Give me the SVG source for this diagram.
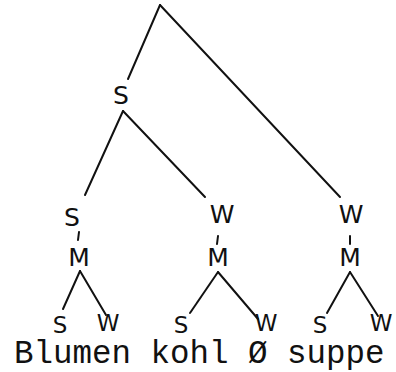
<svg xmlns="http://www.w3.org/2000/svg" width="396" height="372" viewBox="0 0 396 372">
<style>
.e{stroke:#111;stroke-width:2;fill:none;stroke-linecap:round}
.h{font-family:"DejaVu Sans","Liberation Sans",sans-serif;font-size:25px;fill:#111;text-anchor:middle}
.b{font-size:23px}
.w{font-family:"Liberation Mono","Courier New",monospace;font-size:32.5px;fill:#111}
</style>
<rect width="396" height="372" fill="#fff"/>
<g id="connectors">
<line class="e" x1="160" y1="5" x2="128" y2="79"/>
<line class="e" x1="160" y1="5" x2="340" y2="197"/>
<line class="e" x1="123" y1="111" x2="85" y2="195"/>
<line class="e" x1="123" y1="111" x2="205" y2="197"/>
<line class="e" x1="79" y1="232" x2="78" y2="240"/>
<line class="e" x1="218" y1="236" x2="217" y2="244"/>
<line class="e" x1="350" y1="236" x2="350" y2="244"/>
<line class="e" x1="80" y1="271" x2="63" y2="309"/>
<line class="e" x1="80" y1="271" x2="106" y2="315"/>
<line class="e" x1="218" y1="272" x2="190" y2="313"/>
<line class="e" x1="218" y1="272" x2="258" y2="319"/>
<line class="e" x1="350" y1="272" x2="327" y2="313"/>
<line class="e" x1="350" y1="272" x2="378" y2="316"/>
</g>
<g id="root-S"><text class="h" x="121" y="104">S</text></g>
<g id="n-S1"><text class="h" x="72" y="226">S</text></g>
<g id="n-W1"><text class="h" x="222" y="223">W</text></g>
<g id="n-W2"><text class="h" x="351" y="223">W</text></g>
<g id="m1"><text class="h" x="79" y="266">M</text></g>
<g id="m2"><text class="h" x="218" y="266">M</text></g>
<g id="m3"><text class="h" x="350" y="266">M</text></g>
<g id="l-S1"><text class="h b" x="60" y="333">S</text></g>
<g id="l-W1"><text class="h b" x="108" y="331">W</text></g>
<g id="l-S2"><text class="h b" x="181" y="333">S</text></g>
<g id="l-W2"><text class="h b" x="266" y="331">W</text></g>
<g id="l-S3"><text class="h b" x="320" y="333">S</text></g>
<g id="l-W3"><text class="h b" x="381" y="331">W</text></g>
<g id="words"><text class="w" x="14" y="363">Blumen kohl Ø suppe</text></g>
</svg>
